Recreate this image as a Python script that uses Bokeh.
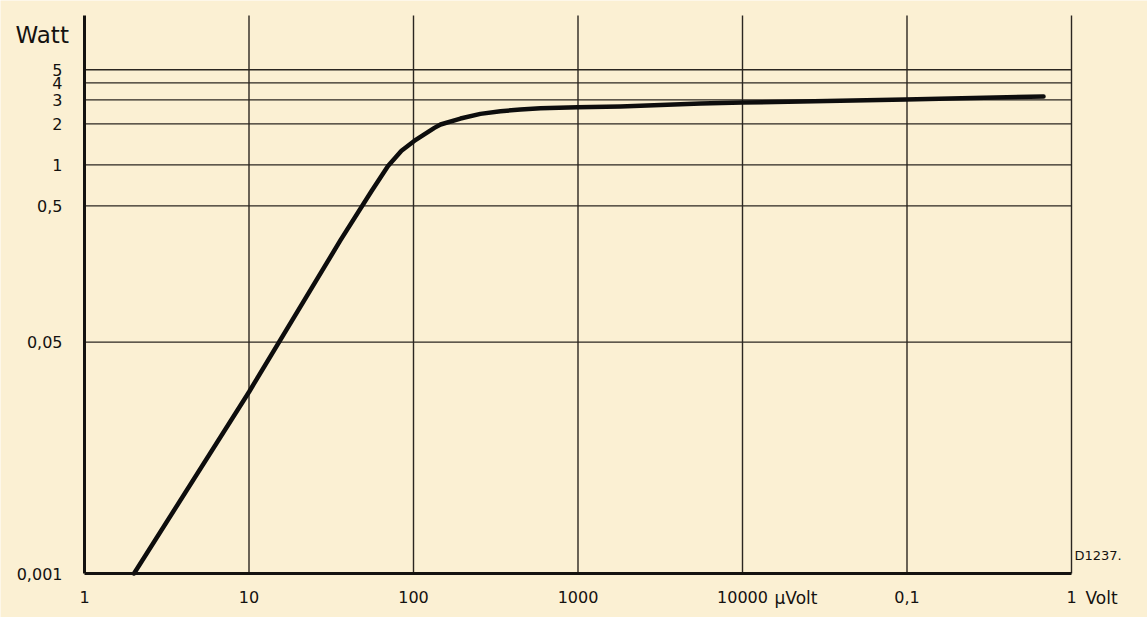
import math
from bokeh.plotting import figure
from bokeh.models import FixedTicker, Label
from bokeh.embed import file_html
from bokeh.resources import INLINE

# ---- data ----
volt_uV = [2, 10, 36, 55.5, 70, 84.5, 101, 134, 146, 193, 255, 338, 447, 592, 993, 1812,
           5560, 10000, 98000, 676000]
watt = [0.001, 0.0215, 0.28, 0.64, 0.98, 1.27, 1.50, 1.87, 1.98, 2.19, 2.37, 2.48, 2.55, 2.61, 2.65, 2.68,
        2.82, 2.87, 3.02, 3.18]

x_ticks = [1, 10, 100, 1000, 10000, 100000, 1000000]
x_tick_labels = ["1", "10", "100", "1000", "10000", "0,1", "1"]
y_ticks = [0.001, 0.05, 0.5, 1, 2, 3, 4, 5]
y_tick_labels = ["0,001", "0,05", "0,5", "1", "2", "3", "4", "5"]
y_top = 12.5  # top end of the drawn watt scale

BG = "#fbf0d3"
INK = "#141210"
GRID = "#2b2620"
FONT = "DejaVu Sans"

W, H = 1147, 617
# pixel placement of the chart box (left, right, top, bottom)
PL, PR, PT, PB = 84, 1071, 15, 573

# view ranges so that the frame fills the canvas and the box lands at the pixels above
lx0, lx1 = math.log10(x_ticks[0]), math.log10(x_ticks[-1])
dx = (PR - PL) / (lx1 - lx0)
x_start = 10 ** (lx0 - PL / dx)
x_end = 10 ** (lx1 + (W - PR) / dx)
ly0, ly1 = math.log10(y_ticks[0]), math.log10(y_top)
dy = (PB - PT) / (ly1 - ly0)
y_start = 10 ** (ly0 - (H - PB) / dy)
y_end = 10 ** (ly1 + PT / dy)

p = figure(width=W, height=H, x_axis_type="log", y_axis_type="log",
           x_range=(x_start, x_end), y_range=(y_start, y_end),
           output_backend="svg", toolbar_location=None,
           min_border=0, min_border_left=0, min_border_right=0,
           min_border_top=0, min_border_bottom=0)
p.background_fill_color = BG
p.border_fill_color = BG
p.outline_line_color = None
p.grid.visible = False

# axes, pinned to the corner of the chart box
p.xaxis.fixed_location = y_ticks[0]
p.yaxis.fixed_location = x_ticks[0]
p.xaxis.bounds = (x_ticks[0], x_ticks[-1])
p.yaxis.bounds = (y_ticks[0], y_top)
p.xaxis.ticker = FixedTicker(ticks=x_ticks)
p.xaxis.major_label_overrides = {t: s for t, s in zip(x_ticks, x_tick_labels)}
p.yaxis.ticker = FixedTicker(ticks=y_ticks)
p.yaxis.major_label_overrides = {t: s for t, s in zip(y_ticks, y_tick_labels)}
for ax in (p.xaxis, p.yaxis):
    ax.axis_line_width = 3
    ax.axis_line_color = INK
    ax.major_tick_line_color = None
    ax.minor_tick_line_color = None
    ax.major_label_text_font = FONT
    ax.major_label_text_font_size = "16px"
    ax.major_label_text_color = INK
p.xaxis.major_label_standoff = 11
p.yaxis.major_label_standoff = 16

# grid lines limited to the chart box
vx = x_ticks[1:]
p.segment(x0=vx, x1=vx, y0=[y_ticks[0]] * len(vx), y1=[y_top] * len(vx),
          line_color=GRID, line_width=1.4)
hy = y_ticks[1:]
p.segment(x0=[x_ticks[0]] * len(hy), x1=[x_ticks[-1]] * len(hy), y0=hy, y1=hy,
          line_color=GRID, line_width=1.4)

# curve
p.line(volt_uV, watt, line_width=4.5, line_color="#0d0d0d", line_join="round", line_cap="round")

# extra texts
p.add_layout(Label(x=x_ticks[0], y=9.0, x_offset=-69, text="Watt", text_font=FONT,
                   text_font_size="23px", text_color=INK, text_baseline="middle"))
p.add_layout(Label(x=x_ticks[4], y=y_ticks[0], x_offset=32, y_offset=-24, text="µVolt",
                   text_font=FONT, text_font_size="17px", text_color=INK, text_baseline="middle"))
p.add_layout(Label(x=x_ticks[6], y=y_ticks[0], x_offset=14, y_offset=-24, text="Volt",
                   text_font=FONT, text_font_size="17px", text_color=INK, text_baseline="middle"))
p.add_layout(Label(x=x_ticks[6], y=y_ticks[0], x_offset=3, y_offset=18, text="D1237.",
                   text_font=FONT, text_font_size="13px", text_color=INK, text_baseline="middle"))

open("out.html", "w").write(file_html(p, INLINE))
